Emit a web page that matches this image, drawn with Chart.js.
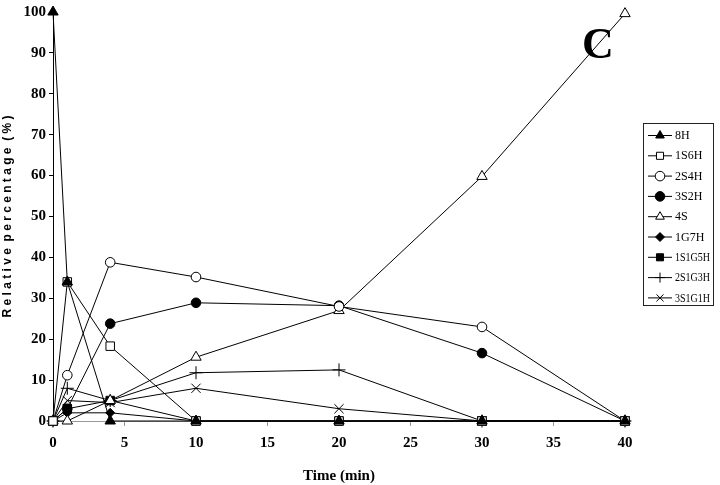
<!DOCTYPE html>
<html>
<head>
<meta charset="utf-8">
<script src="https://cdn.jsdelivr.net/npm/chart.js@4"></script>
<style>
  html, body { margin: 0; padding: 0; background: #fff; }
  #wrap { width: 720px; height: 485px; }
</style>
</head>
<body>
<div id="wrap"><canvas id="chartC" width="720" height="485"></canvas></div>
<script>
// time points (min)
const times = [0, 1, 4, 10, 20, 30, 40];

// relative percentage per species
const s8H     = [100, 34, 0, 0, 0, 0, 0];
const s1S6H   = [0, 34, 18.3, 0, 0, 0, 0];
const s2S4H   = [0, 11.2, 38.8, 35.2, 28, 23, 0];
const s3S2H   = [0, 3, 23.8, 28.9, 28.2, 16.6, 0];
const s4S     = [0, 0, 5, 15.6, 27, 59.8, 99.6];
const s1G7H   = [0, 2, 2, 0, 0, 0, 0];
const s1S1G5H = [0, 3, 5, 0, 0, 0, 0];
const s2S1G3H = [0, 8, 5, 11.8, 12.5, 0, 0];
const s3S1G1H = [0, 5, 4.5, 8, 3, 0, 0];

const yTicks = [0, 10, 20, 30, 40, 50, 60, 70, 80, 90, 100];
const xTicks = [0, 5, 10, 15, 20, 25, 30, 35, 40];

const pts = arr => arr.map((v, i) => ({ x: times[i], y: v }));

// marker = [pointStyle, filled?, radius]
const series = [
  ["8H", s8H, "triangle", true, 6],
  ["1S6H", s1S6H, "rect", false, 6],
  ["2S4H", s2S4H, "circle", false, 4.8],
  ["3S2H", s3S2H, "circle", true, 4.8],
  ["4S", s4S, "triangle", false, 6],
  ["1G7H", s1G7H, "rectRot", true, 4.5],
  ["1S1G5H", s1S1G5H, "rect", true, 6],
  ["2S1G3H", s2S1G3H, "cross", false, 6.5],
  ["3S1G1H", s3S1G1H, "crossRot", false, 6.5]
];

const datasets = series.map(s => ({
  label: s[0],
  data: pts(s[1]),
  pointStyle: s[2],
  pointRadius: s[4],
  pointBackgroundColor: s[3] ? "#000" : "#fff",
  pointBorderColor: "#000",
  pointBorderWidth: 1,
  borderColor: "#000",
  borderWidth: 1,
  showLine: true,
  tension: 0,
  clip: false
}));

// legend box and the big "C"
const extras = {
  id: "extras",
  afterDraw(chart) {
    const c = chart.ctx;
    c.save();
    c.fillStyle = "#000";
    c.font = "bold 44px 'Liberation Serif', serif";
    c.textAlign = "center";
    c.textBaseline = "middle";
    c.fillText("C", 598, 47);

    const bx = 643, by = 123, bw = 70, bh = 182;
    c.strokeStyle = "#222";
    c.lineWidth = 1;
    c.strokeRect(bx + 0.5, by + 0.5, bw, bh);
    c.font = "12px 'Liberation Serif', serif";
    c.textAlign = "left";
    chart.data.datasets.forEach((ds, i) => {
      const y = by + 12 + i * 20.3;
      c.strokeStyle = "#000";
      c.beginPath();
      c.moveTo(bx + 5, y + 0.5);
      c.lineTo(bx + 29, y + 0.5);
      c.stroke();
      c.fillStyle = ds.pointBackgroundColor;
      Chart.helpers.drawPoint(c, {
        pointStyle: ds.pointStyle,
        radius: Math.min(ds.pointRadius, 5),
        rotation: 0,
        borderWidth: 1
      }, bx + 17, y + 0.5);
      c.fillStyle = "#000";
      c.fillText(ds.label, bx + 32, y + 1, 35);
    });
    c.restore();
  }
};

const tickFont = { family: "'Liberation Serif', serif", size: 15, weight: "bold" };

new Chart(document.getElementById("chartC"), {
  type: "scatter",
  data: { datasets },
  options: {
    responsive: false,
    animation: false,
    layout: { padding: { top: 8, right: 95, left: 0, bottom: 0 } },
    plugins: {
      legend: { display: false },
      tooltip: { enabled: false }
    },
    scales: {
      x: {
        type: "linear",
        min: 0,
        max: 40,
        afterBuildTicks: axis => { axis.ticks = xTicks.map(v => ({ value: v })); },
        afterFit: axis => { axis.height = 64; },
        grid: { drawOnChartArea: false, drawTicks: true, tickLength: 5, color: "#999" },
        border: { color: "#999", width: 1 },
        ticks: { color: "#000", font: tickFont, padding: 8, maxRotation: 0 },
        title: {
          display: true,
          text: "Time (min)",
          color: "#000",
          font: { family: "'Liberation Serif', serif", size: 15, weight: "bold" },
          padding: { top: 6, bottom: 0 }
        }
      },
      y: {
        min: 0,
        max: 100,
        afterBuildTicks: axis => { axis.ticks = yTicks.map(v => ({ value: v })); },
        afterFit: axis => { axis.width = 53; },
        grid: { drawOnChartArea: false, drawTicks: true, tickLength: 4, color: "#000" },
        border: { color: "#000", width: 1 },
        ticks: { color: "#000", font: tickFont, padding: 3 },
        title: {
          display: true,
          text: "R e l a t i v e  p e r c e n t a g e  ( % )",
          color: "#000",
          font: { family: "'Liberation Sans', sans-serif", size: 12, weight: "bold" },
          padding: { top: 0, bottom: 2 }
        }
      }
    }
  },
  plugins: [extras]
});
</script>
</body>
</html>
